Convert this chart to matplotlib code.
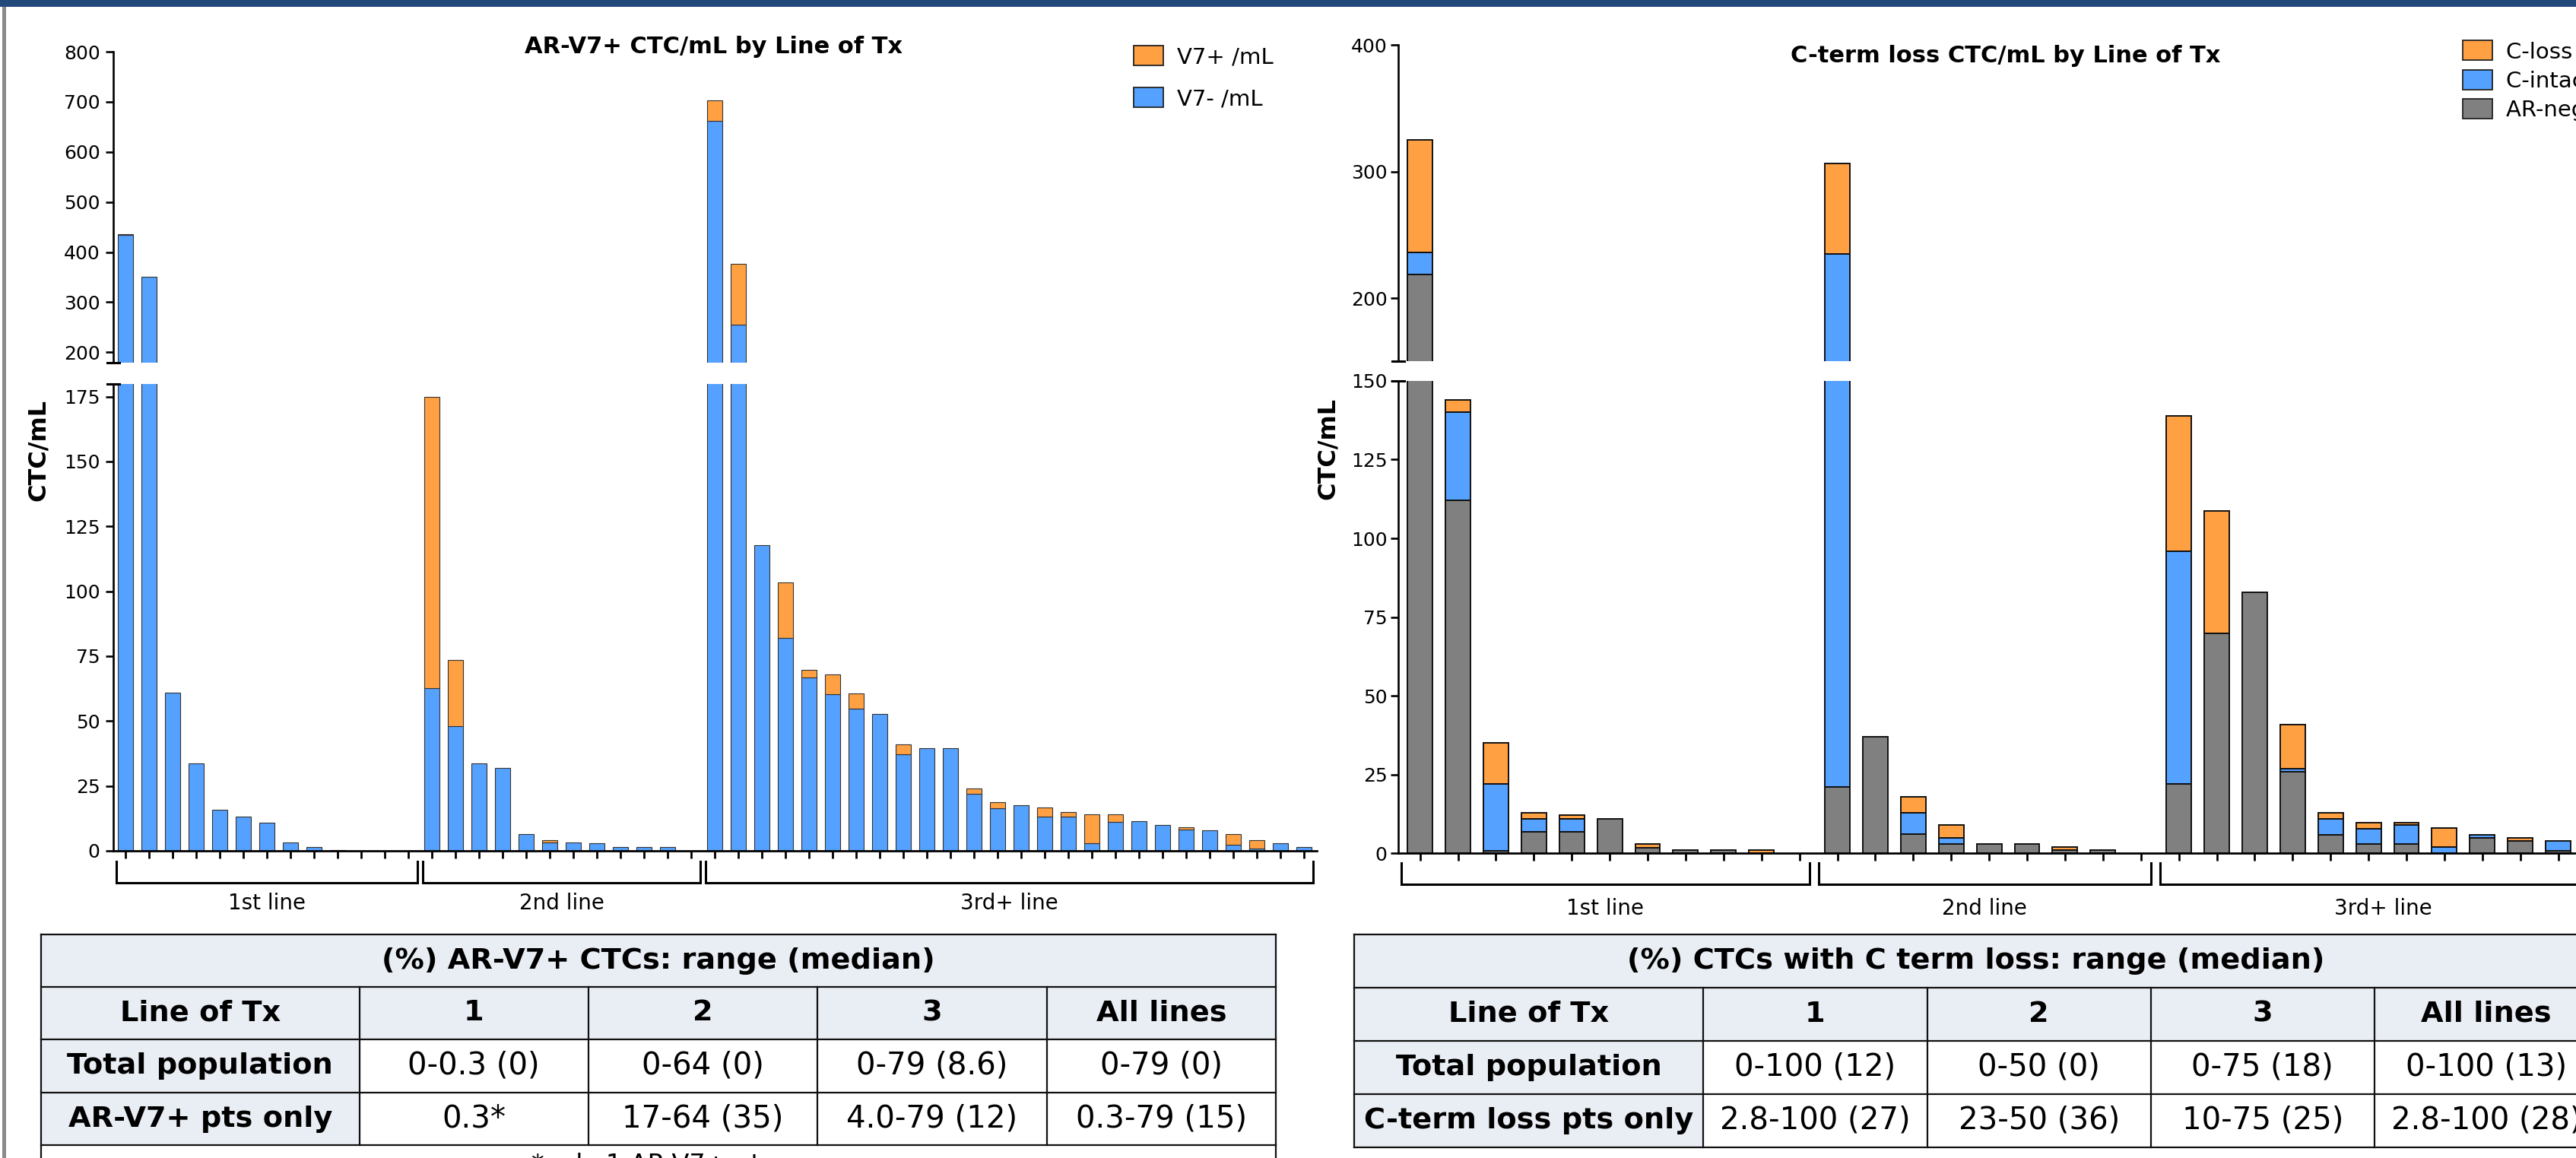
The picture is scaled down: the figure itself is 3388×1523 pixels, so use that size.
import numpy as np
import matplotlib
matplotlib.use("Agg")
import matplotlib.pyplot as plt
import matplotlib.transforms as mtrans
from matplotlib.patches import Rectangle, Patch

# ---------------- data ----------------
line_labels = ["1st line", "2nd line", "3rd+ line"]

# AR-V7 chart (CTC/mL per patient)
v7_neg_1 = [434, 351, 60.8, 33.8, 15.7, 13.2, 10.7, 3.1, 1.4, 0.3, 0, 0, 0]
v7_pos_1 = [1.3, 0, 0, 0, 0, 0, 0, 0, 0, 0, 0, 0, 0]
v7_neg_2 = [62.7, 48.0, 33.6, 31.8, 6.3, 3.3, 3.1, 2.8, 1.5, 1.5, 1.4, 0]
v7_pos_2 = [112.3, 25.6, 0, 0, 0, 0.7, 0, 0, 0, 0, 0, 0]
v7_neg_3 = [661.5, 255.6, 117.7, 81.9, 66.8, 60.3, 54.7, 52.8, 37.3, 39.6, 39.6, 22.1, 16.3,
            17.6, 13.1, 13.2, 2.8, 11.0, 11.5, 9.9, 8.1, 7.9, 2.3, 0.85, 2.8, 1.5]
v7_pos_3 = [41.9, 121.4, 0, 21.4, 2.8, 7.8, 5.9, 0, 3.7, 0, 0, 2.0, 2.5,
            0, 3.6, 1.6, 11.4, 3.1, 0, 0, 0.9, 0, 4.0, 3.15, 0, 0]
v7_legend = ["V7+ /mL", "V7- /mL"]
v7_title = "AR-V7+ CTC/mL by Line of Tx"

# C-terminal loss chart (CTC/mL per patient)
ct_neg_1 = [219, 112, 0.8, 6.8, 6.8, 10.9, 1.8, 0.9, 0.9, 0, 0]
ct_int_1 = [17, 28, 21.1, 4.1, 4.0, 0, 0, 0, 0, 0, 0]
ct_loss_1 = [89, 4, 13.1, 2.0, 1.2, 0, 1.1, 0, 0, 0.9, 0]
ct_neg_2 = [21, 36.9, 6.0, 2.9, 2.9, 2.9, 1.0, 0.9, 0]
ct_int_2 = [214, 0, 6.9, 2.0, 0, 0, 0, 0, 0]
ct_loss_2 = [71.5, 0, 5.0, 4.0, 0, 0, 1.0, 0, 0]
ct_neg_3 = [21.9, 69.8, 82.8, 26.0, 5.8, 2.9, 2.9, 0, 4.9, 3.9, 0.8, 0]
ct_int_3 = [73.9, 0, 0, 0.9, 5.0, 4.9, 6.0, 2.0, 0.9, 0, 3.2, 0]
ct_loss_3 = [43.1, 39.0, 0, 14.0, 2.1, 2.0, 0.9, 5.9, 0, 1.0, 0, 0]
ct_legend = ["C-loss /mL", "C-intact /mL", "AR-neg /mL"]
ct_title = "C-term loss CTC/mL by Line of Tx"

ylabel = "CTC/mL"

# tables
tbl_cols = ["Line of Tx", "1", "2", "3", "All lines"]
v7_tbl_title = "(%) AR-V7+ CTCs: range (median)"
v7_tbl_rows = ["Total population", "AR-V7+ pts only"]
v7_tbl_cells = [["0-0.3 (0)", "0-64 (0)", "0-79 (8.6)", "0-79 (0)"],
                ["0.3*", "17-64 (35)", "4.0-79 (12)", "0.3-79 (15)"]]
v7_tbl_note = "*only 1 AR-V7+ pt"
ct_tbl_title = "(%) CTCs with C term loss: range (median)"
ct_tbl_rows = ["Total population", "C-term loss pts only"]
ct_tbl_cells = [["0-100 (12)", "0-50 (0)", "0-75 (18)", "0-100 (13)"],
                ["2.8-100 (27)", "23-50 (36)", "10-75 (25)", "2.8-100 (28)"]]

# ---------------- style ----------------
ORANGE = "#FFA042"
BLUE = "#55A1FF"
GRAY = "#808080"
LIGHT = "#E9EDF4"

W, H = 3388, 1523
DPI = 100
plt.rcParams["font.family"] = ["DejaVu Sans"]
fig = plt.figure(figsize=(W / DPI, H / DPI), dpi=DPI)
fig.patch.set_facecolor("white")


def frect(x0, y0, x1, y1):
    return [x0 / W, 1 - y1 / H, (x1 - x0) / W, (y1 - y0) / H]


def yf(py):
    return 1 - py / H


def chart(fr, groups, colors, leg_labels, title):
    nser = len(colors)
    stacks = [np.concatenate([np.asarray(g[s], float) for g in groups]) for s in range(nser)]
    sizes = [len(g[0]) for g in groups]
    n = sum(sizes)
    x = np.arange(n)
    xlim = ((fr["left"] - fr["x0"]) / fr["step"], (fr["right"] - fr["x0"]) / fr["step"])

    ax_up = fig.add_axes(frect(fr["left"], fr["up_top"], fr["right"], fr["up_bot"]))
    ax_lo = fig.add_axes(frect(fr["left"], fr["lo_top"], fr["right"], fr["lo_bot"]))
    for ax in (ax_up, ax_lo):
        bottom = np.zeros(n)
        for vals, col in zip(stacks, colors):
            m = vals > 0
            ax.bar(x[m], vals[m], bottom=bottom[m], width=fr["bw"], color=col,
                   edgecolor=fr["ec"], linewidth=fr["elw"], zorder=2)
            bottom += vals
        ax.set_xlim(*xlim)
        ax.spines["top"].set_visible(False)
        ax.spines["right"].set_visible(False)
        ax.spines["left"].set_linewidth(1.9)
        ax.spines["bottom"].set_linewidth(2.0)
        ax.tick_params(axis="y", direction="out", length=7.5, width=1.9,
                       labelsize=18, pad=fr["tpad"])
        ax.set_facecolor("none")
    ax_up.set_ylim(*fr["up_lim"])
    ax_up.set_yticks(fr["up_ticks"])
    ax_lo.set_ylim(*fr["lo_lim"])
    ax_lo.set_yticks(fr["lo_ticks"])
    ax_up.spines["bottom"].set_visible(False)
    ax_up.tick_params(axis="x", bottom=False, labelbottom=False)
    ax_lo.set_xticks(x)
    ax_lo.tick_params(axis="x", direction="out", length=7.5, width=2.0, labelbottom=False)

    # break caps on the y spine
    wpx = fr["right"] - fr["left"]
    d = 8 / wpx
    ax_up.plot([-d, d], [0, 0], transform=ax_up.transAxes, color="black", lw=2.2, clip_on=False)
    ax_lo.plot([-d, d], [1, 1], transform=ax_lo.transAxes, color="black", lw=2.2, clip_on=False)

    # group brackets
    blend = mtrans.blended_transform_factory(ax_lo.transData, fig.transFigure)
    start = 0
    for lab, sz in zip(line_labels, sizes):
        xs = start - fr["ext_l"]
        xe = start + sz - 1 + fr["ext_r"]
        ax_lo.plot([xs, xs, xe, xe], [yf(fr["br_top"]), yf(fr["br_bot"]), yf(fr["br_bot"]), yf(fr["br_top"])],
                   transform=blend, color="black", lw=2.2, clip_on=False, solid_joinstyle="miter")
        ax_lo.text((xs + xe) / 2, yf(fr["lab_y"]), lab, transform=blend, ha="center", va="center",
                   fontsize=20)
        start += sz

    fig.text(fr["ylab"][0] / W, yf(fr["ylab"][1]), ylabel, rotation=90, ha="center", va="center",
             fontsize=23, fontweight="bold")
    fig.text(fr["title"][0] / W, yf(fr["title"][1]), title, ha="center", va="center",
             fontsize=22, fontweight="bold")

    handles = [Patch(facecolor=c, edgecolor="#222222", linewidth=1.3) for c in colors[::-1]]
    ax_up.legend(handles, leg_labels, loc="upper left",
                 bbox_to_anchor=(fr["leg"][0] / W, yf(fr["leg"][1])), bbox_transform=fig.transFigure,
                 frameon=False, fontsize=21, handlelength=1.32, handleheight=1.0,
                 handletextpad=0.65, labelspacing=fr["legsp"], borderpad=0, borderaxespad=0)
    return ax_up, ax_lo


left_frame = dict(left=149, right=1732, up_top=68, up_bot=476.5, lo_top=504.6, lo_bot=1119,
                  up_lim=(180, 800), lo_lim=(0, 180), up_ticks=np.arange(200, 801, 100),
                  lo_ticks=np.arange(0, 176, 25), x0=165, step=31, bw=0.645, ec="#333333", elw=0.8,
                  ext_l=0.4, ext_r=0.4, br_top=1132.6, br_bot=1160.8, lab_y=1188, tpad=5,
                  ylab=(50, 592), title=(938, 62), leg=(1491, 60), legsp=0.9)
right_frame = dict(left=1839, right=3444, up_top=59.4, up_bot=475.4, lo_top=500.9, lo_bot=1122.2,
                   up_lim=(150, 400), lo_lim=(0, 150), up_ticks=np.arange(200, 401, 100),
                   lo_ticks=np.arange(0, 151, 25), x0=1867.6, step=49.9, bw=0.66, ec="#111111", elw=1.4,
                   ext_l=0.5, ext_r=0.27, br_top=1135, br_bot=1163.4, lab_y=1195, tpad=3,
                   ylab=(1746, 590), title=(2638, 73), leg=(3239, 53), legsp=0.33)

chart(left_frame, [[v7_neg_1, v7_pos_1], [v7_neg_2, v7_pos_2], [v7_neg_3, v7_pos_3]],
      [BLUE, ORANGE], v7_legend, v7_title)
chart(right_frame, [[ct_neg_1, ct_int_1, ct_loss_1], [ct_neg_2, ct_int_2, ct_loss_2],
                    [ct_neg_3, ct_int_3, ct_loss_3]],
      [GRAY, BLUE, ORANGE], ct_legend, ct_title)

# ---------------- overlay: frame decorations and tables ----------------
ov = fig.add_axes([0, 0, 1, 1], zorder=-1)
ov.set_xlim(0, W)
ov.set_ylim(H, 0)
ov.axis("off")
ov.add_patch(Rectangle((0, 0), W, 9, facecolor="#22497C", edgecolor="none"))
ov.add_patch(Rectangle((3, 9), 5, H, facecolor="#8A8A8A", edgecolor="none"))


def draw_table(xe, ye, outer_bottom, title, cols, rows, cells):
    x0, x1 = xe[0], xe[-1]
    ov.add_patch(Rectangle((x0, ye[0]), x1 - x0, ye[2] - ye[0], facecolor=LIGHT, edgecolor="none"))
    for r in range(len(rows)):
        ov.add_patch(Rectangle((x0, ye[2 + r]), xe[1] - x0, ye[3 + r] - ye[2 + r],
                               facecolor=LIGHT, edgecolor="none"))
    for y in ye:
        ov.plot([x0, x1], [y, y], color="#111111", lw=1.6)
    for xv in xe[1:-1]:
        ov.plot([xv, xv], [ye[1], ye[-1]], color="#111111", lw=1.6)
    for xv in (x0, x1):
        ov.plot([xv, xv], [ye[0], outer_bottom], color="#111111", lw=1.6)
    ov.text((x0 + x1) / 2, (ye[0] + ye[1]) / 2, title, ha="center", va="center",
            fontsize=27.5, fontweight="bold")
    for c, lab in enumerate(cols):
        ov.text((xe[c] + xe[c + 1]) / 2, (ye[1] + ye[2]) / 2, lab, ha="center", va="center",
                fontsize=27.5, fontweight="bold")
    for r, lab in enumerate(rows):
        yc = (ye[2 + r] + ye[3 + r]) / 2
        ov.text((xe[0] + xe[1]) / 2, yc, lab, ha="center", va="center", fontsize=27.5, fontweight="bold")
        for c, val in enumerate(cells[r]):
            ov.text((xe[c + 1] + xe[c + 2]) / 2, yc, val, ha="center", va="center", fontsize=29)


draw_table([54, 472.6, 774, 1075.3, 1376.7, 1678], [1229.3, 1298.3, 1366.7, 1437.3, 1505.7], 1540,
           v7_tbl_title, tbl_cols, v7_tbl_rows, v7_tbl_cells)
ov.text(850, 1516, v7_tbl_note, ha="center", va="top", fontsize=24)
draw_table([1781, 2240, 2534.6, 2829, 3122.7, 3417], [1229, 1299, 1369, 1439, 1509], 1509,
           ct_tbl_title, tbl_cols, ct_tbl_rows, ct_tbl_cells)

fig.savefig("out.png", dpi=DPI)
